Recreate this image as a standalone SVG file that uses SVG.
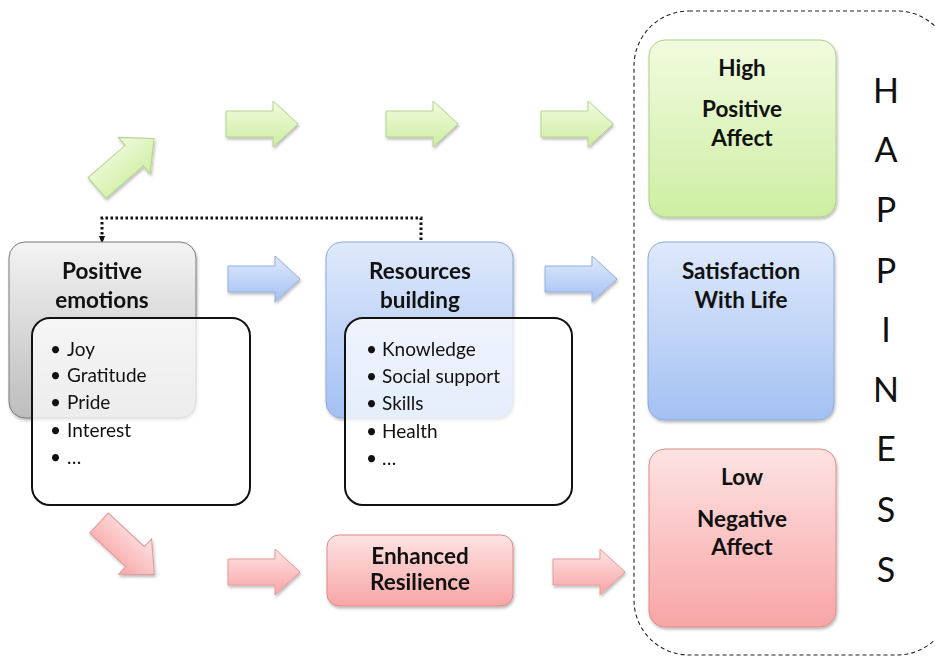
<svg xmlns="http://www.w3.org/2000/svg" width="935" height="656" viewBox="0 0 935 656">
<defs>
<style>
.t{font-family:Lato,"Open Sans","Liberation Sans",sans-serif;font-weight:bold;font-size:22.5px;fill:#111;text-anchor:middle}
.li{font-family:Lato,"Open Sans","Liberation Sans",sans-serif;font-size:19px;fill:#111}
.hp{font-family:Lato,"Open Sans","Liberation Sans",sans-serif;font-size:34px;fill:#111;text-anchor:middle}
.list{fill:#fff;fill-opacity:0.72;stroke:#111;stroke-width:2}
</style>
<linearGradient id="gG" x1="0" y1="0" x2="0" y2="1"><stop offset="0" stop-color="#f1fbdf"/><stop offset="1" stop-color="#cdeea2"/></linearGradient>
<linearGradient id="gB" x1="0" y1="0" x2="0" y2="1"><stop offset="0" stop-color="#dfe9fb"/><stop offset="1" stop-color="#a3c1f3"/></linearGradient>
<linearGradient id="gR" x1="0" y1="0" x2="0" y2="1"><stop offset="0" stop-color="#fde3e3"/><stop offset="1" stop-color="#f8a5a5"/></linearGradient>
<linearGradient id="gK" x1="0" y1="0" x2="0" y2="1"><stop offset="0" stop-color="#f3f3f3"/><stop offset="1" stop-color="#bdbdbd"/></linearGradient>
<filter id="sh" x="-10%" y="-10%" width="130%" height="130%"><feDropShadow dx="1" dy="2" stdDeviation="1.5" flood-color="#000" flood-opacity="0.28"/></filter>
<path id="arr" d="M0,-13 H47 V-23 L72,0 L47,23 V13 H0 Z"/>
<marker id="ah" markerWidth="8" markerHeight="8" refX="4" refY="4" orient="auto" markerUnits="userSpaceOnUse"><path d="M0,1 L8,4 L0,7 Z" fill="#111"/></marker>
</defs>
<rect width="935" height="656" fill="#fff"/>

<g id="happiness-frame">
<rect x="634" y="11" width="318" height="644" rx="55" fill="none" stroke="#222" stroke-width="1.1" stroke-dasharray="4,3"/>
<text class="hp" x="886" y="103">H</text>
<text class="hp" x="886" y="162">A</text>
<text class="hp" x="886" y="222">P</text>
<text class="hp" x="886" y="283">P</text>
<text class="hp" x="886" y="342">I</text>
<text class="hp" x="886" y="402">N</text>
<text class="hp" x="886" y="461">E</text>
<text class="hp" x="886" y="522">S</text>
<text class="hp" x="886" y="582">S</text>
</g>

<g id="connectors">
<g fill="url(#gG)" stroke="#b5d48c" stroke-width="1" filter="url(#sh)">
<use href="#arr" transform="translate(97,188) rotate(-41) scale(1.05)"/>
<use href="#arr" transform="translate(226,124)"/>
<use href="#arr" transform="translate(386,124)"/>
<use href="#arr" transform="translate(541,124)"/>
</g>
<g fill="url(#gB)" stroke="#93b0e0" stroke-width="1" filter="url(#sh)">
<use href="#arr" transform="translate(228,279)"/>
<use href="#arr" transform="translate(545,279)"/>
</g>
<g fill="url(#gR)" stroke="#e59a9a" stroke-width="1" filter="url(#sh)">
<use href="#arr" transform="translate(99,523) rotate(43) scale(1.05)"/>
<use href="#arr" transform="translate(228,572)"/>
<use href="#arr" transform="translate(553,572)"/>
</g>
<path d="M421,240 V218 H102 V240" fill="none" stroke="#111" stroke-width="3" stroke-dasharray="2.5,2.5" marker-end="url(#ah)"/>
</g>

<g id="positive-emotions">
<rect x="9" y="242" width="187" height="176" rx="16" fill="url(#gK)" stroke="#7a7a7a" stroke-width="1" filter="url(#sh)"/>
<text class="t" x="102" y="279">Positive</text>
<text class="t" x="102" y="308">emotions</text>
</g>
<g id="emotions-list">
<rect class="list" x="32" y="318" width="218" height="187" rx="18"/>
<text class="li" x="50" y="356">•</text><text class="li" x="67" y="356">Joy</text>
<text class="li" x="50" y="382">•</text><text class="li" x="67" y="382">Gratitude</text>
<text class="li" x="50" y="409">•</text><text class="li" x="67" y="409">Pride</text>
<text class="li" x="50" y="437">•</text><text class="li" x="67" y="437">Interest</text>
<text class="li" x="50" y="464">•</text><text class="li" x="67" y="464">…</text>
</g>

<g id="resources-building">
<rect x="326" y="242" width="187" height="176" rx="16" fill="url(#gB)" stroke="#8eaadb" stroke-width="1" filter="url(#sh)"/>
<text class="t" x="420" y="279">Resources</text>
<text class="t" x="420" y="308">building</text>
</g>
<g id="resources-list">
<rect class="list" x="345" y="318" width="227" height="187" rx="18"/>
<text class="li" x="366" y="356">•</text><text class="li" x="382" y="356">Knowledge</text>
<text class="li" x="366" y="383">•</text><text class="li" x="382" y="383">Social support</text>
<text class="li" x="366" y="410">•</text><text class="li" x="382" y="410">Skills</text>
<text class="li" x="366" y="438">•</text><text class="li" x="382" y="438">Health</text>
<text class="li" x="366" y="465">•</text><text class="li" x="382" y="465">…</text>
</g>

<g id="enhanced-resilience">
<rect x="327" y="535" width="186" height="71" rx="12" fill="url(#gR)" stroke="#e08a8a" stroke-width="1" filter="url(#sh)"/>
<text class="t" x="420" y="564">Enhanced</text>
<text class="t" x="420" y="590">Resilience</text>
</g>

<g id="high-positive-affect">
<rect x="649" y="40" width="187" height="177" rx="16" fill="url(#gG)" stroke="#b0cf88" stroke-width="1" filter="url(#sh)"/>
<text class="t" x="742" y="76">High</text>
<text class="t" x="742" y="117">Positive</text>
<text class="t" x="742" y="146">Affect</text>
</g>

<g id="satisfaction-with-life">
<rect x="648" y="242" width="186" height="178" rx="16" fill="url(#gB)" stroke="#8eaadb" stroke-width="1" filter="url(#sh)"/>
<text class="t" x="741" y="279">Satisfaction</text>
<text class="t" x="741" y="308">With Life</text>
</g>

<g id="low-negative-affect">
<rect x="649" y="449" width="187" height="178" rx="16" fill="url(#gR)" stroke="#e08a8a" stroke-width="1" filter="url(#sh)"/>
<text class="t" x="742" y="485">Low</text>
<text class="t" x="742" y="527">Negative</text>
<text class="t" x="742" y="555">Affect</text>
</g>
</svg>
